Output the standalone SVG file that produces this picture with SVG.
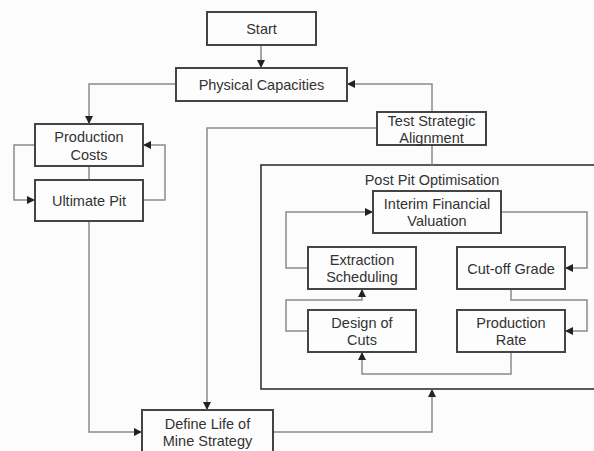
<svg xmlns="http://www.w3.org/2000/svg" width="594" height="451" viewBox="0 0 594 451">
<defs>
<marker id="ah" markerUnits="userSpaceOnUse" markerWidth="8" markerHeight="8" refX="8" refY="4" orient="auto">
<path d="M0,0 L8,4 L0,8 z" fill="#222"/>
</marker>
<style>
.box{fill:#fdfdfd;stroke:#444;stroke-width:2}
.cont{fill:none;stroke:#333;stroke-width:1.6}
.t{font-family:"Liberation Sans",Arial,sans-serif;font-size:14.5px;fill:#333;text-anchor:middle}
.c{fill:none;stroke:#8a8a8a;stroke-width:1.5}
.ca{fill:none;stroke:#8a8a8a;stroke-width:1.5;marker-end:url(#ah)}
</style>
</defs>
<rect x="0" y="0" width="594" height="451" fill="#fcfcfc"/>
<g id="container">
<rect class="cont" x="261" y="165" width="345" height="224"/>
<text class="t" x="432" y="185">Post Pit Optimisation</text>
</g>
<g id="connectors">
<path class="ca" d="M261,45 V68"/>
<path class="ca" d="M176,84 H89 V124"/>
<path class="c" d="M89,166 V180"/>
<path class="ca" d="M35,145 H14 V200 H35"/>
<path class="ca" d="M143,200 H165 V145 H143"/>
<path class="ca" d="M432,112 V84 H347"/>
<path class="c" d="M432,145 V165"/>
<path class="ca" d="M377,128 H207 V410"/>
<path class="ca" d="M89,221 V432 H142"/>
<path class="ca" d="M273,432 H432 V389"/>
<path class="ca" d="M308,268 H286 V212 H373"/>
<path class="ca" d="M501,212 H587 V268 H565"/>
<path class="ca" d="M511,289 V300 H587 V331 H565"/>
<path class="ca" d="M511,352 V374 H362 V352"/>
<path class="ca" d="M308,331 H286 V300 H362 V289"/>
</g>
<g id="start"><rect class="box" x="207" y="12" width="109" height="33"/><text class="t" x="261.5" y="34">Start</text></g>
<g id="physical-capacities"><rect class="box" x="176" y="68" width="171" height="33"/><text class="t" x="261.5" y="90">Physical Capacities</text></g>
<g id="production-costs"><rect class="box" x="35" y="124" width="108" height="42"/><text class="t" x="89" y="142">Production</text><text class="t" x="89" y="160">Costs</text></g>
<g id="ultimate-pit"><rect class="box" x="35" y="180" width="108" height="41"/><text class="t" x="89" y="206">Ultimate Pit</text></g>
<g id="test-strategic-alignment"><rect class="box" x="377" y="112" width="109" height="33"/><text class="t" x="431.5" y="126">Test Strategic</text><text class="t" x="431.5" y="143">Alignment</text></g>
<g id="interim-financial-valuation"><rect class="box" x="373" y="191" width="128" height="42"/><text class="t" x="437" y="209">Interim Financial</text><text class="t" x="437" y="226">Valuation</text></g>
<g id="extraction-scheduling"><rect class="box" x="308" y="247" width="108" height="42"/><text class="t" x="362" y="265">Extraction</text><text class="t" x="362" y="282">Scheduling</text></g>
<g id="cut-off-grade"><rect class="box" x="457" y="247" width="108" height="42"/><text class="t" x="511" y="274">Cut-off Grade</text></g>
<g id="design-of-cuts"><rect class="box" x="308" y="310" width="108" height="42"/><text class="t" x="362" y="328">Design of</text><text class="t" x="362" y="345">Cuts</text></g>
<g id="production-rate"><rect class="box" x="457" y="310" width="108" height="42"/><text class="t" x="511" y="328">Production</text><text class="t" x="511" y="345">Rate</text></g>
<g id="define-life-of-mine-strategy"><rect class="box" x="142" y="410" width="131" height="50"/><text class="t" x="207.5" y="429">Define Life of</text><text class="t" x="207.5" y="446">Mine Strategy</text></g>
</svg>
